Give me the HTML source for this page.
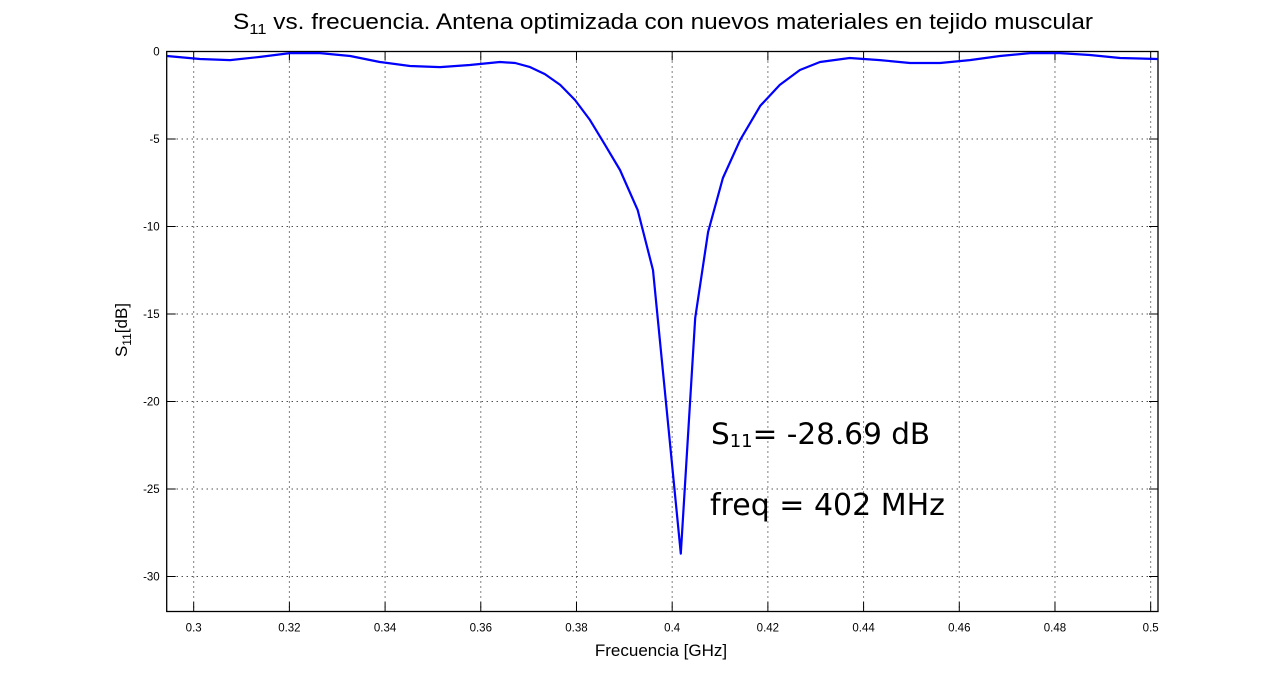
<!DOCTYPE html>
<html><head><meta charset="utf-8"><style>
body{margin:0;background:#fff;width:1280px;height:686px;overflow:hidden}
svg{display:block;font-family:"Liberation Sans",sans-serif}
</style></head><body>
<svg id="chart" width="1280" height="686">
<text x="233" y="29" font-size="22" textLength="860" lengthAdjust="spacingAndGlyphs">S<tspan font-size="15" dy="5">11</tspan><tspan dy="-5"> vs. frecuencia. Antena optimizada con nuevos materiales en tejido muscular</tspan></text>
<g id="grid"></g>
<g id="ticks"></g>
<rect x="166.7" y="51.5" width="991.3" height="560" fill="none" stroke="#000" stroke-width="1.3"/>
<path id="curve" fill="none" stroke="#0000ff" stroke-width="2.2" stroke-linejoin="round"/>
<text x="711" y="444" font-size="29.5" font-family="DejaVu Sans, sans-serif">S<tspan font-size="18" dy="3">11</tspan><tspan dy="-3">= -28.69 dB</tspan></text>
<text x="710" y="515" font-size="30" font-family="DejaVu Sans, sans-serif">freq = 402 MHz</text>
<text x="661" y="656" text-anchor="middle" font-size="17">Frecuencia [GHz]</text>
<text transform="translate(127,330) rotate(-90)" text-anchor="middle" font-size="17">S<tspan font-size="12" dy="4">11</tspan><tspan dy="-4">[dB]</tspan></text>
</svg>
<script>
const freqs=[0.2944,0.3013,0.3076,0.3139,0.3201,0.3264,0.3327,0.3389,0.3452,0.3515,0.3577,0.364,0.3672,0.3703,0.3734,0.3766,0.3797,0.3828,0.3859,0.3891,0.3928,0.396,0.4018,0.4048,0.4075,0.4106,0.4142,0.4184,0.4225,0.4267,0.4309,0.4371,0.4434,0.4497,0.456,0.4622,0.4685,0.4748,0.481,0.4873,0.4936,0.5015];
const s11=[-0.26,-0.43,-0.49,-0.31,-0.09,-0.09,-0.26,-0.6,-0.83,-0.89,-0.77,-0.6,-0.66,-0.89,-1.29,-1.91,-2.77,-3.91,-5.3,-6.77,-9.06,-12.49,-28.69,-15.23,-10.31,-7.23,-5.06,-3.11,-1.91,-1.06,-0.6,-0.37,-0.49,-0.66,-0.66,-0.49,-0.26,-0.09,-0.09,-0.2,-0.37,-0.43];
const xTicks=[0.3,0.32,0.34,0.36,0.38,0.4,0.42,0.44,0.46,0.48,0.5];
const xTickLabels=["0.3","0.32","0.34","0.36","0.38","0.4","0.42","0.44","0.46","0.48","0.5"];
const yTicks=[0,-5,-10,-15,-20,-25,-30];
const yTickLabels=["0","-5","-10","-15","-20","-25","-30"];
const L=166.7,R=1158,T=51.5,B=611.5,xmin=0.29436,xmax=0.50153,ymin=-32,ymax=0;
const X=v=>L+(v-xmin)/(xmax-xmin)*(R-L);
const Y=v=>T+(ymax-v)/(ymax-ymin)*(B-T);
const NS="http://www.w3.org/2000/svg";
const grid=document.getElementById('grid'),ticks=document.getElementById('ticks');
function mk(tag,attrs,parent){const e=document.createElementNS(NS,tag);for(const k in attrs)e.setAttribute(k,attrs[k]);parent.appendChild(e);return e;}
xTicks.forEach((t,i)=>{const x=X(t);
 const g=mk('line',{x1:x,x2:x,y1:T,y2:B,stroke:'#000','stroke-width':1,'stroke-dasharray':'1 4'},grid);
 
 
 mk('line',{x1:x,x2:x,y1:B,y2:B-9,stroke:'#000'},ticks);
 mk('line',{x1:x,x2:x,y1:T,y2:T+9,stroke:'#000'},ticks);
 const tx=mk('text',{x:x,y:B+20,'text-anchor':'middle','font-size':11.5},ticks);tx.textContent=xTickLabels[i];
 
 
});
yTicks.forEach((t,i)=>{const y=Y(t);
 const g=mk('line',{x1:L,x2:R,y1:y,y2:y,stroke:'#000','stroke-width':1,'stroke-dasharray':'1 4'},grid);
 
 
 mk('line',{x1:L,x2:L+9,y1:y,y2:y,stroke:'#000'},ticks);
 mk('line',{x1:R,x2:R-9,y1:y,y2:y,stroke:'#000'},ticks);
 const tx=mk('text',{x:L-7,y:y+4,'text-anchor':'end','font-size':11.5},ticks);tx.textContent=yTickLabels[i];
 
 
});
document.getElementById('curve').setAttribute('d',freqs.map((f,i)=>(i?'L':'M')+X(f).toFixed(1)+','+Y(s11[i]).toFixed(1)).join(''));
</script>
</body></html>
